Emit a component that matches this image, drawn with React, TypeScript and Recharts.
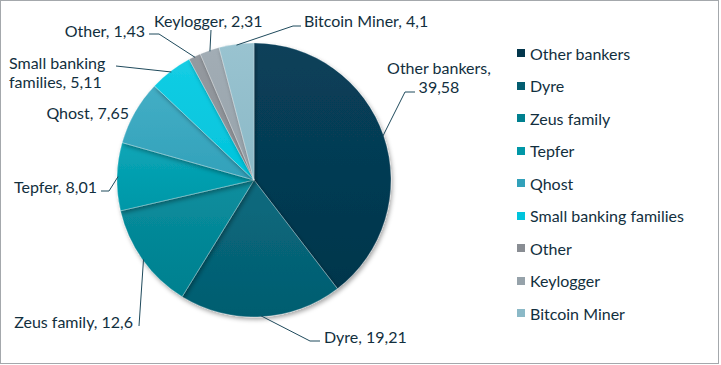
import { PieChart, Pie, Cell, Legend } from 'recharts'

const names = ['Other bankers', 'Dyre', 'Zeus family', 'Tepfer', 'Qhost', 'Small banking families', 'Other', 'Keylogger', 'Bitcoin Miner']
const shares = [39.58, 19.21, 12.6, 8.01, 7.65, 5.11, 1.43, 2.31, 4.1]
const labelText = ['39,58', '19,21', '12,6', '8,01', '7,65', '5,11', '1,43', '2,31', '4,1']

const colors = ['#03364c', '#035d70', '#00808f', '#0097a7', '#32a1ba', '#00c4dc', '#898d93', '#96a2aa', '#8bb9c7']
const lightColors = ['#08405a', '#0a6a7e', '#0a8e9e', '#0aa6b7', '#43aec5', '#14cde4', '#959aa0', '#a2adb5', '#99c3d0']

const data = names.map((name, i) => ({ name, value: shares[i], text: labelText[i] }))

const FONT = 'Lato, "Open Sans", sans-serif'
const TEXT = '#122f3e'

// hand-placed label layout, like the original
type Lay = { lines: string[]; x: number; y: number[]; anchor: 'start' | 'middle' | 'end'; path: [number, number][] }
const layout: Lay[] = [
  { lines: ['Other bankers,', '39,58'], x: 438, y: [66, 85], anchor: 'middle', path: [[404, 91], [414, 91]] },
  { lines: ['Dyre, 19,21'], x: 323, y: [335], anchor: 'start', path: [[309, 340], [319, 340]] },
  { lines: ['Zeus family, 12,6'], x: 132, y: [320], anchor: 'end', path: [[138, 325]] },
  { lines: ['Tepfer, 8,01'], x: 96, y: [185], anchor: 'end', path: [[108, 190], [100, 190]] },
  { lines: ['Qhost, 7,65'], x: 128, y: [111], anchor: 'end', path: [] },
  { lines: ['Small banking', 'families, 5,11'], x: 8, y: [61, 80], anchor: 'start', path: [[115, 65]] },
  { lines: ['Other, 1,43'], x: 144, y: [29], anchor: 'end', path: [[158, 33], [148, 33]] },
  { lines: ['Keylogger, 2,31'], x: 153, y: [19], anchor: 'start', path: [[210, 29]] },
  { lines: ['Bitcoin Miner, 4,1'], x: 303, y: [19], anchor: 'start', path: [[292, 25], [300, 25]] },
]

const RAD = Math.PI / 180

function renderLabel(props: any) {
  const { cx, cy, midAngle, outerRadius, index } = props
  const lay = layout[index]
  const r = outerRadius - 1
  const sx = cx + r * Math.cos(-midAngle * RAD)
  const sy = cy + r * Math.sin(-midAngle * RAD)
  const pts = [[sx, sy], ...lay.path].map((p) => p.join(',')).join(' ')
  return (
    <g key={'lbl' + index}>
      {lay.path.length > 0 && <polyline points={pts} fill="none" stroke="#1f4a5c" strokeWidth={1} />}
      {lay.lines.map((t, k) => (
        <text key={k} x={lay.x} y={lay.y[k]} textAnchor={lay.anchor} dominantBaseline="central" fill={TEXT} fontSize={16} fontFamily={FONT}>
          {t}
        </text>
      ))}
    </g>
  )
}

function LegendBox() {
  return (
    <div style={{ fontFamily: FONT, fontSize: 16, color: TEXT }}>
      {names.map((n, i) => (
        <div key={n} style={{ height: 32.5, display: 'flex', alignItems: 'center' }}>
          <span style={{ width: 8, height: 8, background: colors[i], marginRight: 5, display: 'inline-block' }} />
          <span>{n}</span>
        </div>
      ))}
    </div>
  )
}

export default function App() {
  return (
    <div style={{ position: 'absolute', left: 0, top: 0, width: 719, height: 364, border: '1px solid #a4a8ac', boxSizing: 'border-box', background: '#fff' }}>
      <PieChart width={717} height={362} margin={{ top: 0, right: 0, bottom: 0, left: 0 }}>
        <defs>
          {colors.map((c, i) => (
            <linearGradient key={i} id={'g' + i} x1="0" y1="0" x2="0" y2="1">
              <stop offset="0%" stopColor={lightColors[i]} />
              <stop offset="100%" stopColor={c} />
            </linearGradient>
          ))}
          <filter id="shadow" x="-10%" y="-10%" width="120%" height="120%">
            <feDropShadow dx="1.5" dy="2.5" stdDeviation="2" floodColor="#000" floodOpacity="0.35" />
          </filter>
        </defs>
        <Pie
          data={data}
          dataKey="value"
          nameKey="name"
          cx={253}
          cy={179}
          outerRadius={137}
          startAngle={90}
          endAngle={-270}
          stroke="rgba(255,255,255,0.35)"
          strokeWidth={0.75}
          label={renderLabel}
          labelLine={false}
          isAnimationActive={false}
          style={{ filter: 'url(#shadow)' }}
        >
          {data.map((d, i) => (
            <Cell key={d.name} fill={`url(#g${i})`} />
          ))}
        </Pie>
        <Legend content={<LegendBox />} layout="vertical" wrapperStyle={{ left: 516, top: 36, width: 200 }} />
      </PieChart>
    </div>
  )
}
